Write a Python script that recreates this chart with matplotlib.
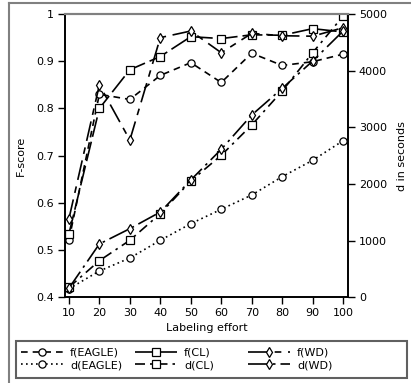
import matplotlib
matplotlib.use("Agg")
import matplotlib.pyplot as plt
from matplotlib.lines import Line2D
from matplotlib.patches import Rectangle

effort = [10, 20, 30, 40, 50, 60, 70, 80, 90, 100]
f_eagle = [0.521, 0.830, 0.819, 0.870, 0.897, 0.855, 0.917, 0.891, 0.899, 0.915]
f_cl = [0.534, 0.800, 0.882, 0.910, 0.952, 0.948, 0.956, 0.955, 0.969, 0.962]
f_wd = [0.566, 0.850, 0.733, 0.950, 0.964, 0.918, 0.959, 0.954, 0.953, 0.971]
d_eagle = [150, 464, 693, 1006, 1299, 1553, 1805, 2129, 2418, 2764]
d_cl = [175, 646, 1006, 1476, 2053, 2506, 3041, 3641, 4317, 4964]
d_wd = [160, 941, 1211, 1505, 2070, 2612, 3217, 3688, 4170, 4700]

left_ticks = [0.4, 0.5, 0.6, 0.7, 0.8, 0.9, 1.0]
left_labels = ["0.4", "0.5", "0.6", "0.7", "0.8", "0.9", "1"]
right_ticks = [0, 1000, 2000, 3000, 4000, 5000]

plt.rcParams['font.family'] = ['DejaVu Sans']
W, H = 411, 383
fig = plt.figure(figsize=(W / 100, H / 100), dpi=100)
ax = fig.add_axes([0.158, 0.2238, 0.688, 0.7396])
ax2 = ax.twinx()

mk = dict(markerfacecolor='white', markeredgecolor='black', markeredgewidth=0.9, color='black', lw=1.2)
h1, = ax.plot(effort, f_eagle, marker='o', markersize=5.2, dashes=(4, 3), label='f(EAGLE)', **mk)
h3, = ax.plot(effort, f_cl, marker='s', markersize=5.2, dashes=(12, 3), label='f(CL)', **mk)
h5, = ax.plot(effort, f_wd, marker='d', markersize=5.2, dashes=(12, 4, 4, 4), label='f(WD)', **mk)
h2, = ax2.plot(effort, d_eagle, marker='o', markersize=5.2, dashes=(1, 2), label='d(EAGLE)', **mk)
h4, = ax2.plot(effort, d_cl, marker='s', markersize=5.2, dashes=(6, 3, 1.5, 3), label='d(CL)', **mk)
h6, = ax2.plot(effort, d_wd, marker='d', markersize=5.2, dashes=(12, 3, 1.5, 3), label='d(WD)', **mk)

ax.set_xlim(8.7, 101.5)
ax.set_ylim(0.4, 1.0)
ax2.set_ylim(0, 5000)
ax.set_xticks(effort)
ax.set_yticks(left_ticks)
ax.set_yticklabels(left_labels)
ax2.set_yticks(right_ticks)

for a in (ax, ax2):
    a.tick_params(direction='out', length=5, width=1, labelsize=8, pad=3)
    a.spines['top'].set_color('#808080')
    a.spines['top'].set_linewidth(1.5)
    for s in ('left', 'right', 'bottom'):
        a.spines[s].set_linewidth(1.2)

ax.set_xlabel('Labeling effort', fontsize=8, labelpad=3.5)
ax.set_ylabel('F-score', fontsize=8, labelpad=7.5)
ax2.set_ylabel('d in seconds', fontsize=8, labelpad=7.5)

# legend: three columns placed at fixed positions inside one frame
cols = [([h1, h2], 21), ([h3, h4], 135), ([h5, h6], 248)]
for hs, xpx in cols:
    lg = fig.legend(handles=hs, loc='upper left', bbox_to_anchor=(xpx / W, 1 - 347.5 / H),
                    fontsize=8, frameon=False, handlelength=3.8, handletextpad=0.6,
                    borderaxespad=0, borderpad=0, labelspacing=0.25)
fig.add_artist(Rectangle((15.7 / W, 1 - 377.7 / H), (406.7 - 15.7) / W, 36.7 / H,
                         transform=fig.transFigure, fill=False, edgecolor='#606060', lw=1.5))

# outer frame lines (left and top)
fig.add_artist(Line2D([9 / W, 9 / W], [0, 1 - 3 / H], color='#808080', lw=1.5, transform=fig.transFigure))
fig.add_artist(Line2D([9 / W, 1], [1 - 3 / H, 1 - 3 / H], color='#808080', lw=1.5, transform=fig.transFigure))

fig.savefig('out.png', dpi=100)
